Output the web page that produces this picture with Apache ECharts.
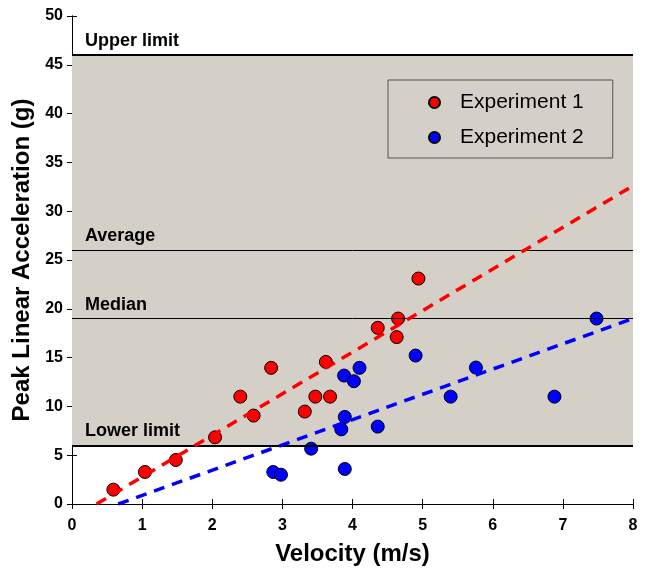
<!DOCTYPE html>
<html>
<head>
<meta charset="utf-8">
<script src="https://cdn.jsdelivr.net/npm/echarts@6/dist/echarts.min.js"></script>
<style>
  html, body { margin: 0; padding: 0; background: #fff; }
  #chart { width: 647px; height: 569px; }
</style>
</head>
<body>
<div id="chart"></div>
<script>
// experiment 1 (red)
var exp1X = [0.59, 1.04, 1.48, 2.04, 2.40, 2.59, 2.84, 3.32, 3.47, 3.62, 3.68, 4.36, 4.65, 4.63, 4.94];
var exp1Y = [1.47, 3.28, 4.51, 6.83, 11.0, 9.06, 13.95, 9.47, 11.0, 14.56, 11.0, 18.05, 19.0, 17.1, 23.1];
// experiment 2 (blue)
var exp2X = [2.87, 2.98, 3.41, 3.89, 3.84, 3.89, 3.88, 4.02, 4.10, 4.36, 4.90, 5.40, 5.76, 6.88, 7.48];
var exp2Y = [3.28, 3.0, 5.67, 3.59, 7.65, 8.92, 13.16, 12.58, 13.95, 7.93, 15.21, 11.0, 13.98, 11.0, 19.0];
// fitted trend lines, endpoints
var fit1 = [[0.35, 0], [8, 32.6]];
var fit2 = [[0.66, 0], [8, 19.0]];
// reference lines
var refValues = [46, 26, 19, 6];
var refLabels = ['Upper limit', 'Average', 'Median', 'Lower limit'];
var refWidths = [2, 1, 1, 2];
var shadeRange = [6, 46];

function zip(xs, ys) {
  return xs.map(function (x, i) { return [x, ys[i]]; });
}

var chart = echarts.init(document.getElementById('chart'));
var font = 'Liberation Sans, Arial, sans-serif';

var axisCommon = {
  axisLine: { lineStyle: { color: '#000', width: 1 } },
  axisTick: { inside: true, length: 5, lineStyle: { color: '#000' } },
  splitLine: { show: false }
};

var option = {
  animation: false,
  grid: { left: 72, top: 16, right: 14, bottom: 65, outerBoundsMode: 'none' },
  xAxis: [
    Object.assign({
      type: 'value', min: 0, max: 8, interval: 1, position: 'bottom',
      name: 'Velocity (m/s)', nameLocation: 'middle', nameGap: 38,
      nameTextStyle: { fontFamily: font, fontWeight: 'bold', fontSize: 24, color: '#000' },
      axisLabel: { fontFamily: font, fontWeight: 'bold', fontSize: 16, color: '#000', margin: 14 }
    }, axisCommon),
    Object.assign({
      type: 'value', min: 0, max: 8, interval: 1, position: 'top',
      axisLabel: { show: false }
    }, axisCommon)
  ],
  yAxis: [
    Object.assign({
      type: 'value', min: 0, max: 50, interval: 5, position: 'left',
      name: 'Peak Linear Acceleration (g)', nameLocation: 'middle', nameGap: 37,
      nameTextStyle: { fontFamily: font, fontWeight: 'bold', fontSize: 24, color: '#000' },
      axisLabel: { fontFamily: font, fontWeight: 'bold', fontSize: 16, color: '#000', margin: 9 }
    }, axisCommon),
    Object.assign({
      type: 'value', min: 0, max: 50, interval: 5, position: 'right',
      axisLabel: { show: false }
    }, axisCommon)
  ],
  legend: {
    orient: 'vertical',
    left: 388, top: 80,
    padding: [12, 29, 10, 40],
    itemGap: 14,
    itemWidth: 11, itemHeight: 11,
    backgroundColor: '#d4d0c8',
    borderColor: '#555',
    borderWidth: 1,
    textStyle: { fontFamily: font, fontSize: 21, lineHeight: 21, color: '#000', padding: [0, 0, 0, 15] },
    data: [
      { name: 'Experiment 1', icon: 'circle' },
      { name: 'Experiment 2', icon: 'circle' }
    ]
  },
  series: [
    {
      name: 'Experiment 1',
      type: 'scatter',
      symbolSize: 13,
      itemStyle: { color: '#ff0000', borderColor: '#000', borderWidth: 1, opacity: 1 },
      data: zip(exp1X, exp1Y),
      z: 3,
      markArea: {
        silent: true,
        itemStyle: { color: '#d4d0c8' },
        data: [[{ yAxis: shadeRange[0] }, { yAxis: shadeRange[1] }]]
      },
      markLine: {
        silent: true,
        symbol: 'none',
        animation: false,
        data: refValues.map(function (v, i) {
          return {
            yAxis: v,
            lineStyle: { color: '#000', type: 'solid', width: refWidths[i] },
            label: {
              show: true,
              formatter: refLabels[i],
              position: 'insideStartTop',
              distance: [13, 5],
              fontFamily: font, fontWeight: 'bold', fontSize: 18, color: '#000'
            }
          };
        })
      }
    },
    {
      name: 'Experiment 2',
      type: 'scatter',
      symbolSize: 13,
      itemStyle: { color: '#0000ff', borderColor: '#000', borderWidth: 1, opacity: 1 },
      data: zip(exp2X, exp2Y),
      z: 3
    },
    {
      name: 'fit1',
      type: 'line',
      symbol: 'none',
      data: fit1,
      z: 5,
      lineStyle: { color: '#ff0000', width: 3.5, type: [11, 8] }
    },
    {
      name: 'fit2',
      type: 'line',
      symbol: 'none',
      data: fit2,
      z: 5,
      lineStyle: { color: '#0000ff', width: 3.5, type: [11, 8] }
    }
  ]
};

chart.setOption(option);
</script>
</body>
</html>
